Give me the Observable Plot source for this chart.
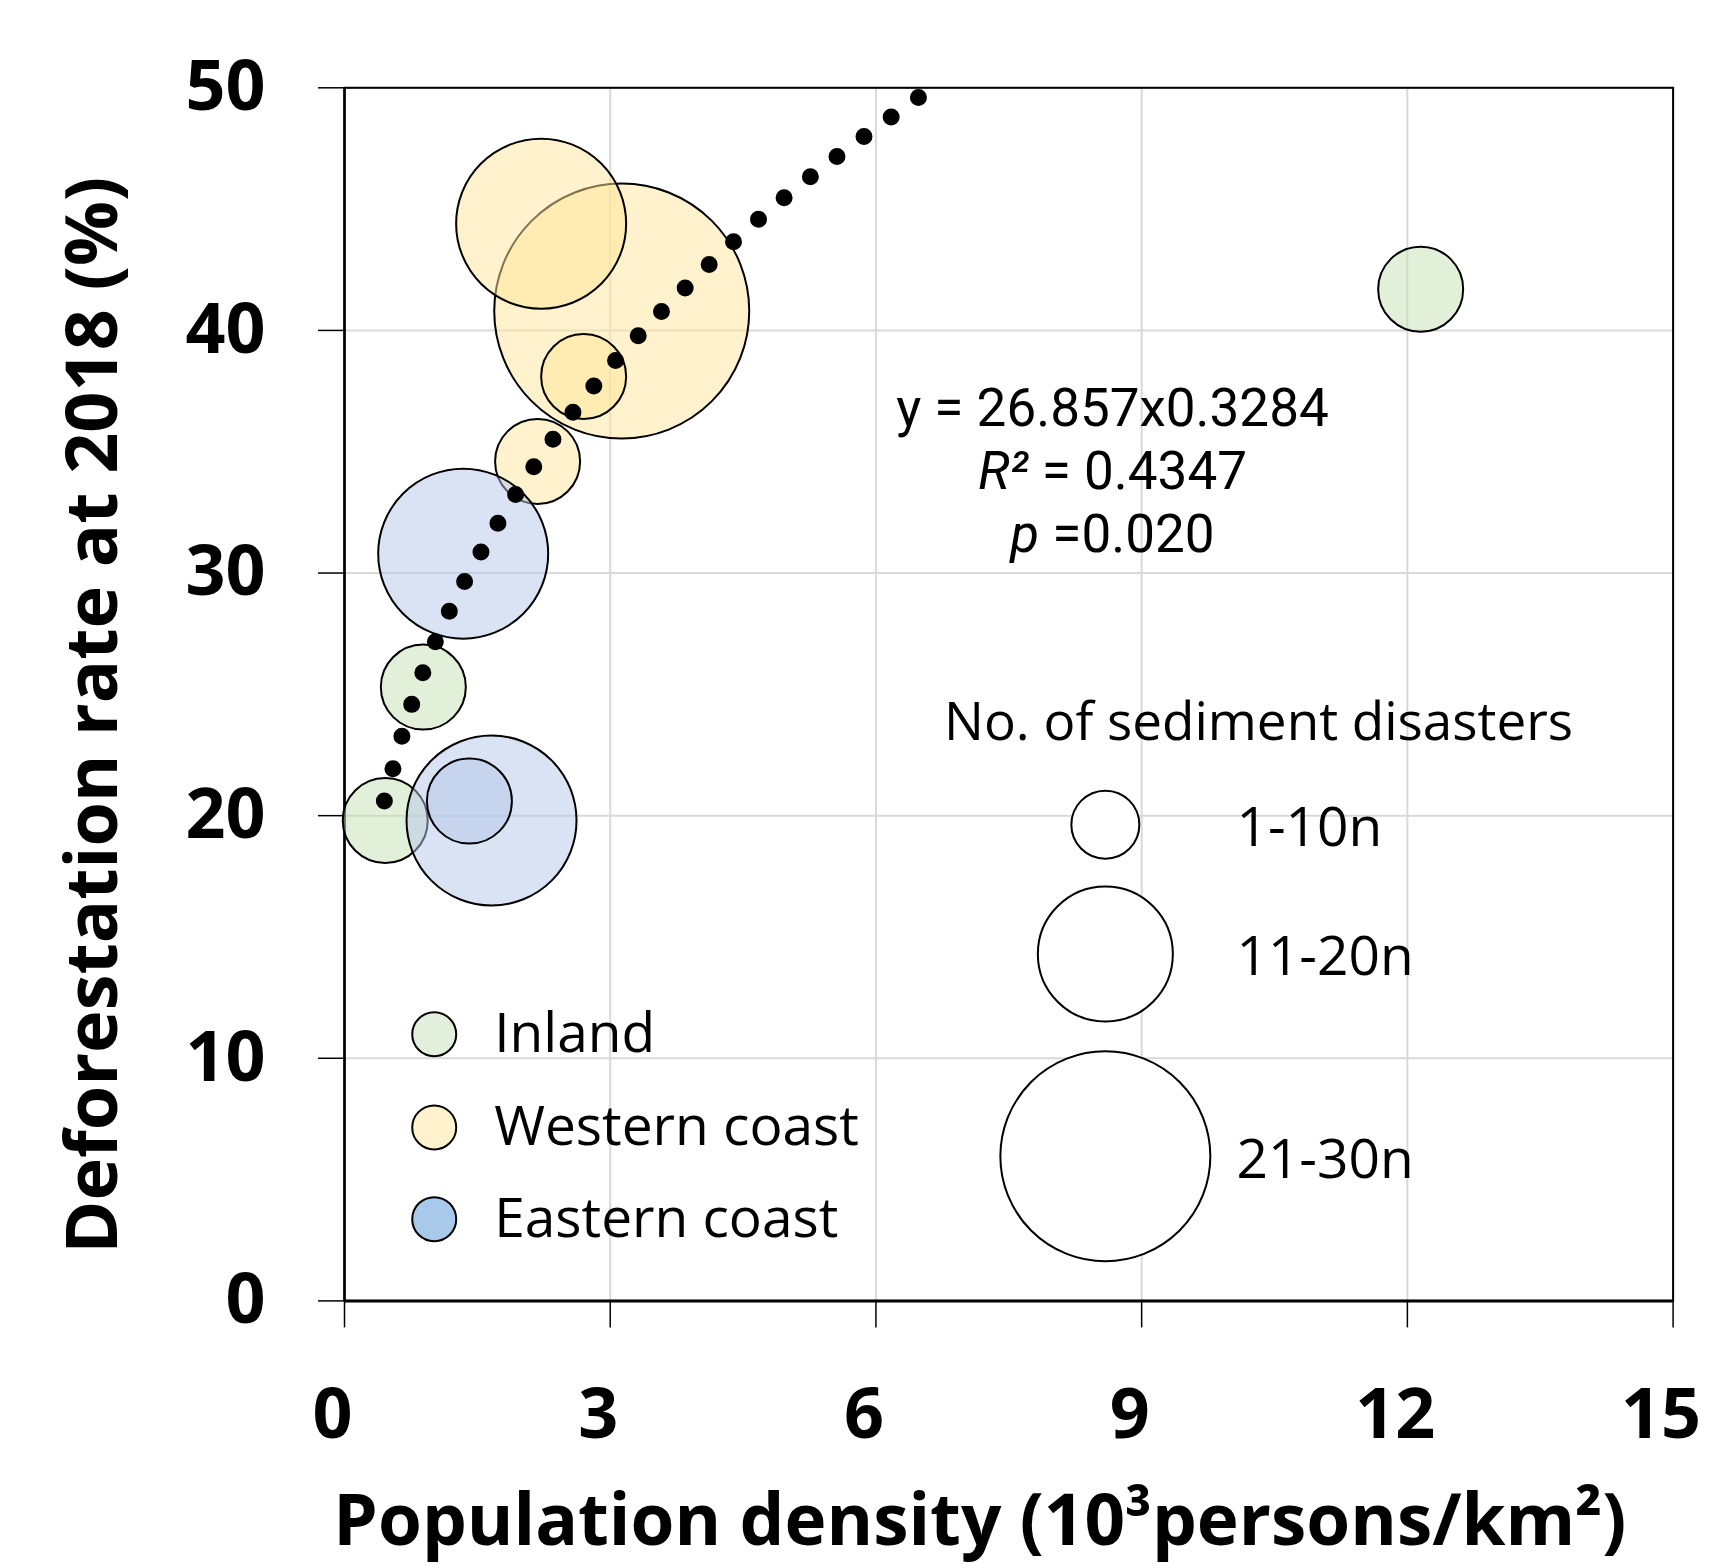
<!DOCTYPE html>
<html>
<head>
<meta charset="utf-8">
<script src="https://cdn.jsdelivr.net/npm/d3@7"></script>
<script src="https://cdn.jsdelivr.net/npm/@observablehq/plot@0.6"></script>
<style>
  html, body { margin: 0; padding: 0; background: white; }
  #chart svg { display: block; }
</style>
</head>
<body>
<div id="chart"></div>
<script>
// ---- Data ----
const regions = ["Inland", "Western coast", "Eastern coast"];
const regionBase = ["#c5e0b4", "#ffe699", "#b4c7e7"];      // bubble fill (drawn at 50% opacity)
const regionSwatch = ["#e2efda", "#fff2cc", "#a9c9ea"];    // legend swatches

const bubbleRegion = ["Inland", "Inland", "Inland",
  "Western coast", "Western coast", "Western coast", "Western coast",
  "Eastern coast", "Eastern coast", "Eastern coast"];
const popDensity   = [0.46, 0.89, 12.15, 3.13, 2.22, 2.70, 2.18, 1.66, 1.41, 1.34];
const deforestRate = [19.8, 25.3, 41.7, 40.8, 44.4, 38.1, 34.6, 19.8, 20.6, 30.8];
const disasterClass = [1, 1, 1, 3, 2, 1, 1, 2, 1, 2];   // 1: 1-10n, 2: 11-20n, 3: 21-30n

// trend line (power fit)
const trendX = [0.45, 0.76, 1.18, 1.74, 2.35, 3.07, 3.86, 4.68, 5.57, 6.48];
const trendY = [20.6, 24.6, 28.4, 32.1, 35.5, 38.8, 41.8, 44.6, 47.2, 49.6];
const trendDotCount = 28;

const xTicks = [0, 3, 6, 9, 12, 15];
const yTicks = [0, 10, 20, 30, 40, 50];

const sizeLabels = ["1-10n", "11-20n", "21-30n"];
const eqLines = [
  [{t: "y = 26.857x0.3284"}],
  [{t: "R²", i: true}, {t: " = 0.4347"}],
  [{t: "p", i: true}, {t: " =0.020"}]
];
const sizeTitle = "No. of sediment disasters";
const xLabel = "Population density (10³persons/km²)";
const yLabel = "Deforestation rate at 2018 (%)";

// ---- tables built from arrays ----
const bubbles = bubbleRegion.map((g, i) => ({region: g, x: popDensity[i], y: deforestRate[i], cls: disasterClass[i]}));
const trend = trendX.map((x, i) => ({x, y: trendY[i]}));

// legend layout (data-space anchors)
const catLegend = regions.map((g, i) => ({region: g, fill: regionSwatch[i], x: 1.013, tx: 1.69, y: [10.99, 7.15, 3.37][i]}));
const sizeLegendY = [19.63, 14.30, 5.96];
const sizeLegendR = [34, 67.5, 105];

const FONT = "'Open Sans', 'Noto Sans', sans-serif";
const EQFONT = "Roboto, 'Open Sans', sans-serif";

const marks = [
  Plot.gridX(xTicks.slice(1), {stroke: "#d9d9d9", strokeOpacity: 1, strokeWidth: 2}),
  Plot.gridY(yTicks.slice(1), {stroke: "#d9d9d9", strokeOpacity: 1, strokeWidth: 2}),
  Plot.frame({stroke: "black", strokeWidth: 2}),
  Plot.ruleY([0], {stroke: "black", strokeWidth: 3}),
  Plot.ruleX([0], {stroke: "black", strokeWidth: 2.5}),
  // tick marks only
  Plot.axisX(xTicks, {tickSize: 27, tickFormat: () => "", label: null, strokeWidth: 1.5}),
  // tick labels only
  Plot.axisX(xTicks, {tickSize: 0, tickPadding: 87, fontSize: 70, fontWeight: "bold", dx: -12, label: null, tickFormat: d => String(d)}),
  Plot.axisY(yTicks, {tickSize: 26, tickPadding: 53, fontSize: 70, fontWeight: "bold", label: null, tickFormat: d => String(d), strokeWidth: 1.5}),
  Plot.dot(bubbles, {x: "x", y: "y", r: "cls", fill: "region", fillOpacity: 0.5, stroke: "black", strokeWidth: 2, sort: null}),
  Plot.line(trend, {x: "x", y: "y", curve: "natural", stroke: "black", strokeWidth: 17, strokeLinecap: "round", strokeDasharray: "0 33.8"}),
  // equation (one multi-line text, italic parts added after render)
  Plot.text([eqLines.map(l => l.map(p => p.t).join("")).join("\n")], {
    x: () => 8.67, y: () => 34.3, text: d => d, fontSize: 53, lineHeight: 1.19, textAnchor: "middle", fontFamily: EQFONT
  }),
  // category legend
  Plot.dot(catLegend, {x: "x", y: "y", r: 22, fill: "fill", stroke: "black", strokeWidth: 2}),
  Plot.text(catLegend, {x: "tx", y: "y", text: "region", fontSize: 55, textAnchor: "start"}),
  // size legend
  Plot.text([sizeTitle], {x: () => 10.32, y: () => 23.81, text: d => d, fontSize: 53, textAnchor: "middle"}),
  ...sizeLabels.map((lab, i) => Plot.dot([lab], {x: () => 8.59, y: () => sizeLegendY[i], r: sizeLegendR[i], fill: "white", stroke: "black", strokeWidth: 2})),
  Plot.text(sizeLabels, {x: () => 10.07, y: (d, i) => sizeLegendY[i] - 0.15, text: d => d, fontSize: 55, textAnchor: "start"}),
  // axis titles
  Plot.text([xLabel], {frameAnchor: "bottom", text: d => d, fontSize: 71, fontWeight: "bold", textAnchor: "middle", lineAnchor: "middle", dx: -29, dy: 221}),
  Plot.text([yLabel], {frameAnchor: "left", text: d => d, fontSize: 72, fontWeight: "bold", textAnchor: "middle", lineAnchor: "middle", rotate: -90, dx: -251, dy: 21})
];

const chart = Plot.plot({
  width: 1712,
  height: 1568,
  marginLeft: 344,
  marginRight: 39.4,
  marginTop: 87.3,
  marginBottom: 267.6,
  x: {domain: [0, 15]},
  y: {domain: [0, 50]},
  r: {type: "linear", domain: [0, 3], range: [0, 127.5]},
  color: {domain: regions, range: regionBase},
  style: {fontFamily: FONT, background: "white", color: "black", overflow: "visible"},
  marks
});
document.getElementById("chart").appendChild(chart);

// italic parts of the equation text
const svgNS = "http://www.w3.org/2000/svg";
chart.querySelectorAll("text").forEach(txt => {
  if (!txt.textContent.includes("26.857")) return;
  const lines = txt.querySelectorAll("tspan");
  lines.forEach((ts, li) => {
    const parts = eqLines[li];
    if (!parts) return;
    ts.textContent = "";
    parts.forEach(p => {
      const s = document.createElementNS(svgNS, "tspan");
      s.textContent = p.t;
      if (p.i) s.setAttribute("font-style", "italic");
      ts.appendChild(s);
    });
  });
});

// space the round dots of the trend line so the first and last dot sit at the ends
chart.querySelectorAll('g[aria-label="line"] path').forEach(path => {
  const L = path.getTotalLength();
  if (L > 0) path.setAttribute("stroke-dasharray", `0 ${(L - 0.05) / (trendDotCount - 1)}`);
});
</script>
</body>
</html>
